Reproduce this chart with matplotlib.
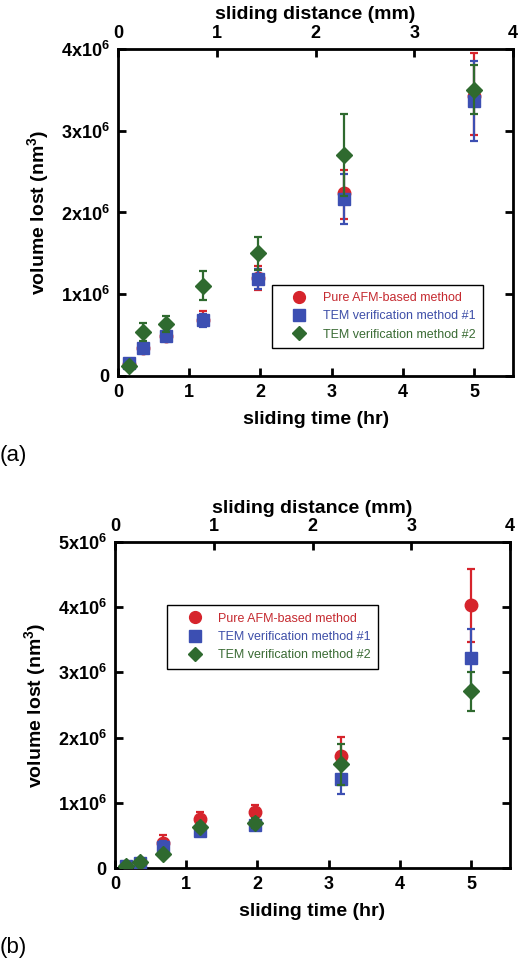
import matplotlib
matplotlib.use('Agg')
import matplotlib.pyplot as plt
from matplotlib.lines import Line2D
from matplotlib.ticker import FuncFormatter

plt.rcParams['font.family'] = ['Liberation Sans', 'DejaVu Sans']
plt.rcParams['font.weight'] = 'bold'
plt.rcParams['mathtext.fontset'] = 'custom'
plt.rcParams['mathtext.rm'] = 'Liberation Sans:bold'
plt.rcParams['mathtext.it'] = 'Liberation Sans:bold'
plt.rcParams['mathtext.bf'] = 'Liberation Sans:bold'

# sliding time (hr), shared by both panels
time_hr = [0.15, 0.35, 0.67, 1.2, 1.97, 3.17, 5.0]
series_names = ['Pure AFM-based method', 'TEM verification method #1', 'TEM verification method #2']

# panel (a): volume lost (nm^3) and error bars (lower, upper)
a_afm = [0.15e6, 0.34e6, 0.49e6, 0.69e6, 1.20e6, 2.24e6, 3.42e6]
a_afm_lo = [0.03e6, 0.05e6, 0.05e6, 0.08e6, 0.15e6, 0.32e6, 0.47e6]
a_afm_hi = [0.03e6, 0.05e6, 0.05e6, 0.11e6, 0.15e6, 0.28e6, 0.53e6]
a_tem1 = [0.155e6, 0.34e6, 0.49e6, 0.68e6, 1.185e6, 2.165e6, 3.36e6]
a_tem1_lo = [0.03e6, 0.04e6, 0.04e6, 0.08e6, 0.12e6, 0.30e6, 0.49e6]
a_tem1_hi = [0.03e6, 0.04e6, 0.04e6, 0.08e6, 0.12e6, 0.30e6, 0.49e6]
a_tem2 = [0.126e6, 0.535e6, 0.633e6, 1.10e6, 1.50e6, 2.70e6, 3.50e6]
a_tem2_lo = [0.03e6, 0.11e6, 0.10e6, 0.17e6, 0.20e6, 0.50e6, 0.30e6]
a_tem2_hi = [0.03e6, 0.11e6, 0.10e6, 0.18e6, 0.20e6, 0.50e6, 0.31e6]

# panel (b)
b_afm = [0.025e6, 0.08e6, 0.385e6, 0.75e6, 0.86e6, 1.72e6, 4.03e6]
b_afm_err = [0.02e6, 0.03e6, 0.12e6, 0.11e6, 0.11e6, 0.29e6, 0.56e6]
b_tem1 = [0.025e6, 0.07e6, 0.33e6, 0.57e6, 0.666e6, 1.37e6, 3.215e6]
b_tem1_err = [0.02e6, 0.03e6, 0.08e6, 0.07e6, 0.08e6, 0.23e6, 0.455e6]
b_tem2 = [0.03e6, 0.09e6, 0.215e6, 0.625e6, 0.69e6, 1.59e6, 2.71e6]
b_tem2_err = [0.02e6, 0.03e6, 0.05e6, 0.06e6, 0.07e6, 0.31e6, 0.30e6]

colors = ['#d6242c', '#3c4fb2', '#2f6a2f']
text_colors = ['#c52a30', '#3e4fa8', '#3a6b34']
markers = ['o', 's', 'D']
msizes = [9, 9, 8]

x_max = 5.55
dist_per_hr = 4.0 / x_max


def sci_fmt(v, pos):
    if v == 0:
        return '0'
    return r'$%dx10^{6}$' % round(v / 1e6)


def draw_panel(ax, vals, errs, ymax, legend_box):
    for i in range(3):
        ax.errorbar(time_hr, vals[i], yerr=errs[i], fmt=markers[i], color=colors[i],
                    markersize=msizes[i], elinewidth=1.6, capsize=3, capthick=1.6,
                    zorder=3 + i)
    ax.set_xlim(0, x_max)
    ax.set_ylim(0, ymax)
    ax.set_xticks(range(0, 6))
    ax.set_yticks([k * 1e6 for k in range(0, int(ymax / 1e6) + 1)])
    ax.yaxis.set_major_formatter(FuncFormatter(sci_fmt))
    ax.tick_params(direction='in', length=6, width=2, labelsize=13, right=True, top=False)
    ax.tick_params(axis='x', pad=6)
    ax.tick_params(axis='y', pad=6)
    for s in ax.spines.values():
        s.set_linewidth(2)
    ax.set_xlabel('sliding time (hr)', fontsize=14, fontweight='bold', labelpad=7)
    ax.set_ylabel(r'volume lost (nm$^{3}$)', fontsize=14, fontweight='bold', labelpad=7)

    sec = ax.secondary_xaxis('top', functions=(lambda t: t * dist_per_hr, lambda d: d / dist_per_hr))
    sec.set_xticks(range(0, 5))
    sec.tick_params(direction='in', length=6, width=2, labelsize=13, pad=5)
    sec.set_xlabel('sliding distance (mm)', fontsize=14, fontweight='bold', labelpad=4)

    handles = [Line2D([], [], linestyle='none', marker=markers[i], color=colors[i],
                      markersize=msizes[i] - 0.5) for i in range(3)]
    leg = ax.legend(handles, series_names, loc='lower left', bbox_to_anchor=legend_box,
                    frameon=True, fancybox=False, edgecolor='black', framealpha=1,
                    handlelength=3.2, handletextpad=0.3, borderpad=0.6, labelspacing=0.5,
                    borderaxespad=0, prop={'size': 9, 'weight': 'normal'})
    leg.get_frame().set_linewidth(1.0)
    for txt, c in zip(leg.get_texts(), text_colors):
        txt.set_color(c)


fig = plt.figure(figsize=(5.2, 9.66), dpi=100)

ax_a = fig.add_axes([0.227, 0.6108, 0.760, 0.3385])
draw_panel(ax_a, [a_afm, a_tem1, a_tem2],
           [[a_afm_lo, a_afm_hi], [a_tem1_lo, a_tem1_hi], [a_tem2_lo, a_tem2_hi]],
           4e6, (0.389, 0.085))

ax_b = fig.add_axes([0.221, 0.1014, 0.760, 0.3375])
draw_panel(ax_b, [b_afm, b_tem1, b_tem2], [b_afm_err, b_tem1_err, b_tem2_err],
           5e6, (0.132, 0.611))

fig.text(0.0, 1 - 456 / 966, '(a)', fontsize=16, fontweight='normal', va='center', ha='left')
fig.text(0.0, 1 - 948 / 966, '(b)', fontsize=16, fontweight='normal', va='center', ha='left')

fig.savefig('out.png', dpi=100)
